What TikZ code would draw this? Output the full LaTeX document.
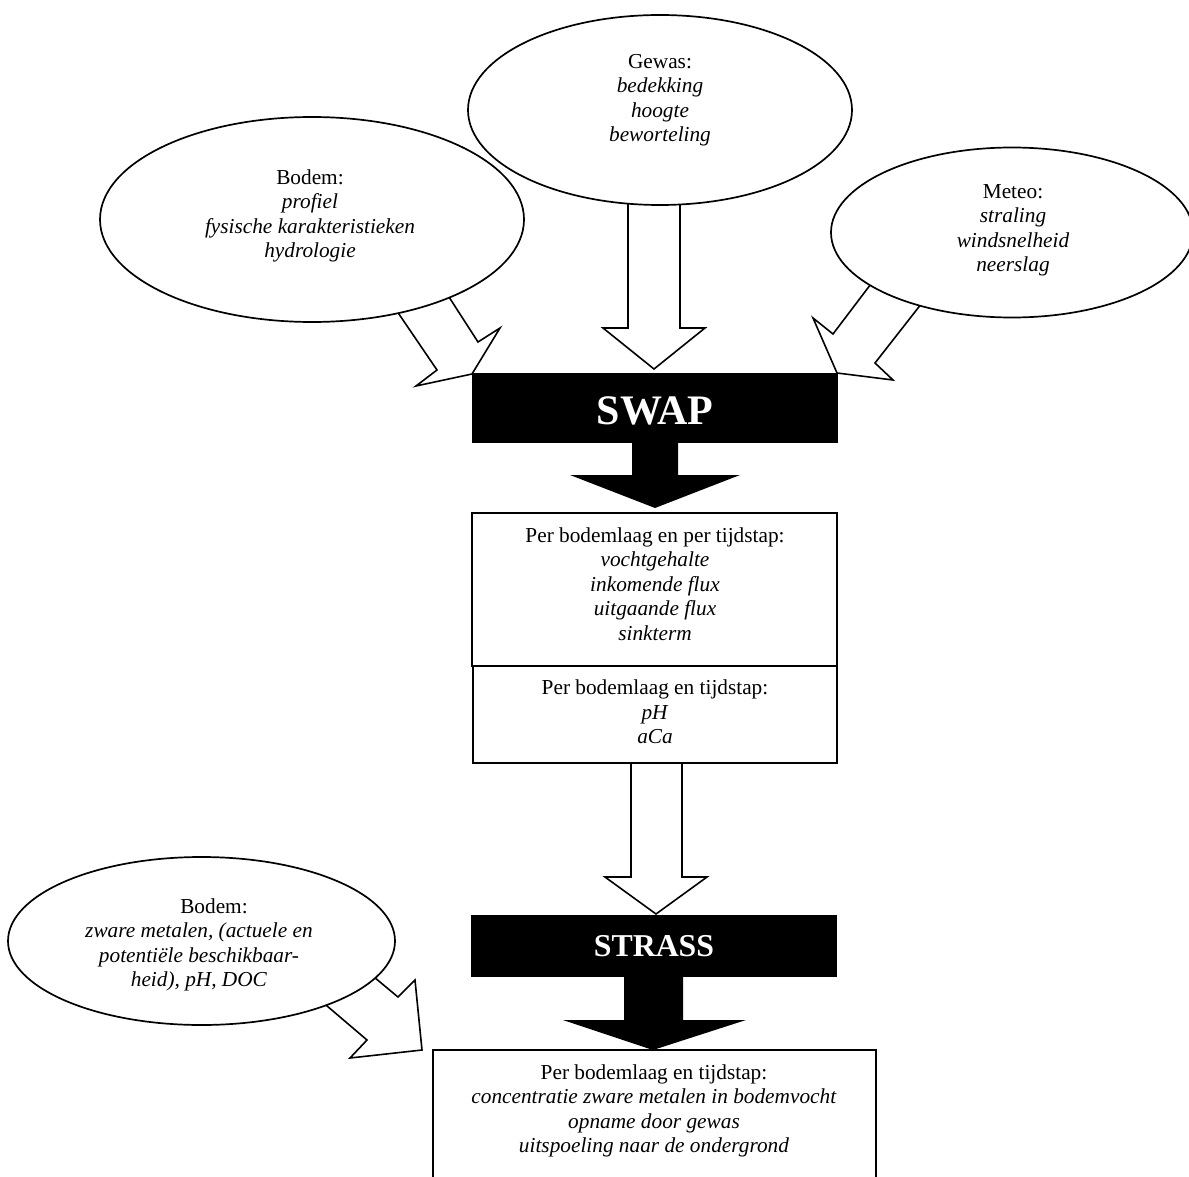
\documentclass[tikz,border=0pt]{standalone}
\usepackage{fontspec}
\setmainfont{Liberation Serif}
\usetikzlibrary{shapes.geometric}
\tikzset{
  ell/.style={ellipse, draw, fill=white, line width=1.7pt, inner sep=0pt},
  txt/.style={align=center, font=\fontsize{21.3}{24.5}\selectfont, inner sep=0pt},
  boxw/.style={rectangle, draw, fill=white, line width=1.7pt, inner sep=0pt},
  boxb/.style={rectangle, fill=black, draw=none, inner sep=0pt},
  blockw/.style={draw, fill=white, line width=1.6pt, line join=miter},
  blockb/.style={fill=black, draw=none},
  bigtitle/.style={text=white, font=\fontsize{42}{48}\selectfont\bfseries, inner sep=0pt},
  midtitle/.style={text=white, font=\fontsize{31.8}{36}\selectfont\bfseries, inner sep=0pt}
}
\begin{document}
\begin{tikzpicture}[x=1pt,y=-1pt]
\useasboundingbox (0,0) rectangle (1189,1177);

% ---- white block arrows (drawn under ellipses / boxes)
\draw[blockw] (628,190) -- (628,328) -- (603,328) -- (654,369) -- (705,328) -- (680,328) -- (680,190) -- cycle;
\draw[blockw] (387,296.5) -- (437,370) -- (416,386) -- (472,374) -- (500,328) -- (478,342) -- (439,281.5) -- cycle;
\draw[blockw] (880,272) -- (833,334) -- (813,318) -- (837,373) -- (893,380) -- (875,363) -- (929,294) -- cycle;
\draw[blockw] (362,967) -- (398,997) -- (415,980) -- (422,1050) -- (350,1058) -- (367,1040) -- (313,994) -- cycle;
\draw[blockw] (631,762) -- (631,877) -- (605,877) -- (656,914) -- (707,877) -- (682,877) -- (682,762) -- cycle;

% ---- ellipses
\node[ell, minimum width=384pt, minimum height=190pt] (gewas) at (660,110) {};
\node[txt] (gewasT) at (660,100) {Gewas:\\\textit{bedekking}\\\textit{hoogte}\\\textit{beworteling}};

\node[ell, minimum width=424pt, minimum height=205pt] (bodem) at (312,219.5) {};
\node[txt] (bodemT) at (310,216) {Bodem:\\\textit{profiel}\\\textit{fysische karakteristieken}\\\textit{hydrologie}};

\node[ell, minimum width=362pt, minimum height=170pt] (meteo) at (1012,232.5) {};
\node[txt] (meteoT) at (1013,230.5) {Meteo:\\\textit{straling}\\\textit{windsnelheid}\\\textit{neerslag}};

\node[ell, minimum width=387pt, minimum height=168pt] (bodem2) at (201.5,941) {};
\node[txt] (bodem2T) at (199,945) {\hspace*{30pt}Bodem:\\\textit{zware metalen, (actuele en}\\\textit{potentiële beschikbaar-}\\\textit{heid), pH, DOC}};

% ---- SWAP
\node[boxb, minimum width=366pt, minimum height=70pt] (swap) at (655,408) {};
\node[bigtitle] (swapT) at (655,411) {SWAP};
\draw[blockb] (632,442) -- (632,475) -- (570,475) -- (655,508) -- (740,475) -- (678,475) -- (678,442) -- cycle;

% ---- output boxes
\node[boxw, minimum width=365pt, minimum height=153pt] (out1) at (654.5,589.5) {};
\node[txt] (out1T) at (655,584) {Per bodemlaag en per tijdstap:\\\textit{vochtgehalte}\\\textit{inkomende flux}\\\textit{uitgaande flux}\\\textit{sinkterm}};
\node[boxw, minimum width=364pt, minimum height=97pt] (out2) at (655,714.5) {};
\node[txt] (out2T) at (655,712) {Per bodemlaag en tijdstap:\\\textit{pH}\\\textit{aCa}};

% ---- STRASS
\node[boxb, minimum width=366pt, minimum height=62pt] (strass) at (654,946) {};
\node[midtitle] (strassT) at (654,946.5) {STRASS};
\draw[blockb] (624,976) -- (624,1020) -- (563,1020) -- (653,1050) -- (746,1020) -- (683,1020) -- (683,976) -- cycle;

% ---- final box (runs past the bottom edge)
\draw[line width=1.7pt] (433,1190) -- (433,1050) -- (876,1050) -- (876,1190);
\node[txt] (out3T) at (654,1111) {Per bodemlaag en tijdstap:\\\textit{concentratie zware metalen in bodemvocht}\\\textit{opname door gewas}\\\textit{uitspoeling naar de ondergrond}};
\end{tikzpicture}
\end{document}
